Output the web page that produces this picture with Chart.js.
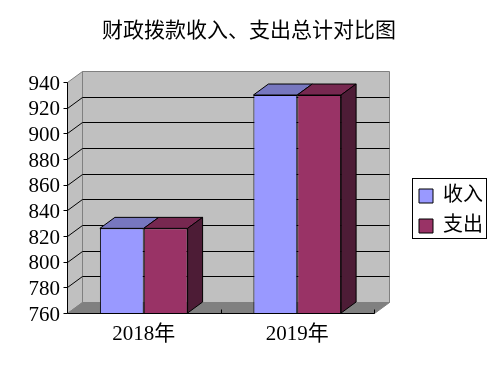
<!DOCTYPE html>
<html lang="zh">
<head>
    <meta charset="UTF-8">
    <title>财政拨款收入、支出总计对比图</title>
    <script src="https://cdn.jsdelivr.net/npm/chart.js"></script>
    <style>
        body { margin: 0; background: #fff; }
        canvas { display: block; }
    </style>
</head>
<body>
    <canvas id="grafic" width="498" height="369"></canvas>
    <script>
        const titol = "财政拨款收入、支出总计对比图";
        const categories = ["2018年", "2019年"];
        const nomsSeries = ["收入", "支出"];
        const ingressos = [826, 930];
        const despeses = [826, 930];
        const yMin = 760;
        const yMax = 940;
        const yPas = 20;

        const fontText = "'Liberation Serif','Noto Sans CJK SC',serif";
        const colorsSeries = ["#9999ff", "#993366"];
        const colorsDalt = ["#7777bf", "#772850"];
        const colorLateral = "#4d1c36";

        // profunditat del falso 3D
        const dx = 15;
        const dy = 11;

        function poligon(ctx, punts, fons, linia) {
            ctx.beginPath();
            punts.forEach((p, i) => i ? ctx.lineTo(p[0], p[1]) : ctx.moveTo(p[0], p[1]));
            ctx.closePath();
            if (fons) { ctx.fillStyle = fons; ctx.fill(); }
            if (linia) { ctx.strokeStyle = linia; ctx.lineWidth = 1; ctx.stroke(); }
        }

        function linia(ctx, x1, y1, x2, y2, color) {
            ctx.beginPath();
            ctx.moveTo(x1, y1);
            ctx.lineTo(x2, y2);
            ctx.strokeStyle = color;
            ctx.lineWidth = 1;
            ctx.stroke();
        }

        const fons3d = {
            id: "fons3d",
            afterLayout(chart) {
                // la llegenda va separada del gràfic i el títol centrat a tota la pàgina
                const lg = chart.legend;
                const ample = lg.width;
                lg.left = 409;
                lg.right = 409 + ample;
                lg.top = 176;
                lg.bottom = 369;
                chart.titleBlock.left = 0;
                chart.titleBlock.right = chart.width;
                chart.titleBlock.width = chart.width;
            },
            beforeDatasetsDraw(chart) {
                const ctx = chart.ctx;
                const { left, right, top, bottom } = chart.chartArea;
                const y = chart.scales.y;
                const L = Math.round(left) + 0.5;
                const R = Math.round(right) + 0.5;
                const T = Math.round(top) + 0.5;
                const B = Math.round(bottom) + 0.5;

                // parets
                poligon(ctx, [[L + dx, T - dy], [R + dx, T - dy], [R + dx, B - dy], [L + dx, B - dy]], "#c0c0c0", "#808080");
                poligon(ctx, [[L, T], [L + dx, T - dy], [L + dx, B - dy], [L, B]], "#c0c0c0", "#808080");
                poligon(ctx, [[L, B], [L + dx, B - dy], [R + dx, B - dy], [R, B]], "#808080", "#808080");

                // graella
                y.ticks.forEach(t => {
                    const py = Math.round(y.getPixelForValue(t.value)) + 0.5;
                    if (t.value !== yMin && t.value !== yMax) {
                        linia(ctx, L + dx, py - dy, R + dx, py - dy, "#000");
                        linia(ctx, L, py, L + dx, py - dy, "#000");
                    }
                    linia(ctx, L - 4, py, L, py, "#000");
                });

                // cares de dalt i laterals de les barres
                chart.data.datasets.forEach((ds, i) => {
                    chart.getDatasetMeta(i).data.forEach(bar => {
                        const x0 = bar.x - bar.width / 2;
                        const x1 = bar.x + bar.width / 2;
                        poligon(ctx, [[x0, bar.y], [x0 + dx, bar.y - dy], [x1 + dx, bar.y - dy], [x1, bar.y]], colorsDalt[i], "#000");
                        if (i === chart.data.datasets.length - 1) {
                            poligon(ctx, [[x1, bar.y], [x1 + dx, bar.y - dy], [x1 + dx, bottom - dy], [x1, bottom]], colorLateral, "#000");
                        }
                    });
                });
            },
            afterDatasetsDraw(chart) {
                const ctx = chart.ctx;
                const { left, right, top, bottom } = chart.chartArea;
                const x = chart.scales.x;
                const L = Math.round(left) + 0.5;
                const R = Math.round(right) + 0.5;
                const T = Math.round(top) + 0.5;
                const B = Math.round(bottom) + 0.5;

                // eixos
                linia(ctx, L, T, L, B, "#000");
                linia(ctx, L, B, R, B, "#000");
                [Math.round((x.getPixelForValue(0) + x.getPixelForValue(1)) / 2) + 0.5, R].forEach(px => {
                    linia(ctx, px, B - 4, px, B, "#000");
                });
            },
            afterDraw(chart) {
                const lg = chart.legend;
                const ctx = chart.ctx;
                ctx.strokeStyle = "#000";
                ctx.lineWidth = 1;
                ctx.strokeRect(lg.left + 3.5, lg.top + 2.5, 74, 60);
            }
        };

        new Chart(document.getElementById("grafic").getContext("2d"), {
            type: "bar",
            data: {
                labels: categories,
                datasets: [
                    { label: nomsSeries[0], data: ingressos, backgroundColor: colorsSeries[0], borderColor: "#000", borderWidth: 1 },
                    { label: nomsSeries[1], data: despeses, backgroundColor: colorsSeries[1], borderColor: "#000", borderWidth: 1 }
                ]
            },
            options: {
                responsive: false,
                animation: false,
                layout: { padding: { left: 0, right: 40, top: 0, bottom: 0 } },
                datasets: { bar: { categoryPercentage: 0.5714, barPercentage: 1 } },
                plugins: {
                    tooltip: { enabled: false },
                    title: {
                        display: true,
                        text: titol,
                        color: "#000",
                        font: { family: fontText, size: 21, weight: "normal", lineHeight: 1.2 },
                        padding: { top: 19, bottom: 38 }
                    },
                    legend: {
                        position: "right",
                        align: "start",
                        labels: {
                            boxWidth: 14,
                            boxHeight: 14,
                            color: "#000",
                            padding: 10,
                            font: { family: fontText, size: 20 }
                        }
                    }
                },
                scales: {
                    x: {
                        grid: { display: false },
                        border: { display: false },
                        afterFit: s => { s.height = 56; },
                        ticks: { color: "#000", padding: 1, maxRotation: 0, font: { family: fontText, size: 21 } }
                    },
                    y: {
                        min: yMin,
                        max: yMax,
                        grid: { display: false },
                        border: { display: false },
                        afterFit: s => { s.width = 67; },
                        ticks: { color: "#000", padding: -1, labelOffset: 2, stepSize: yPas, autoSkip: false, font: { family: fontText, size: 21 } }
                    }
                }
            },
            plugins: [fons3d]
        });
    </script>
</body>
</html>
